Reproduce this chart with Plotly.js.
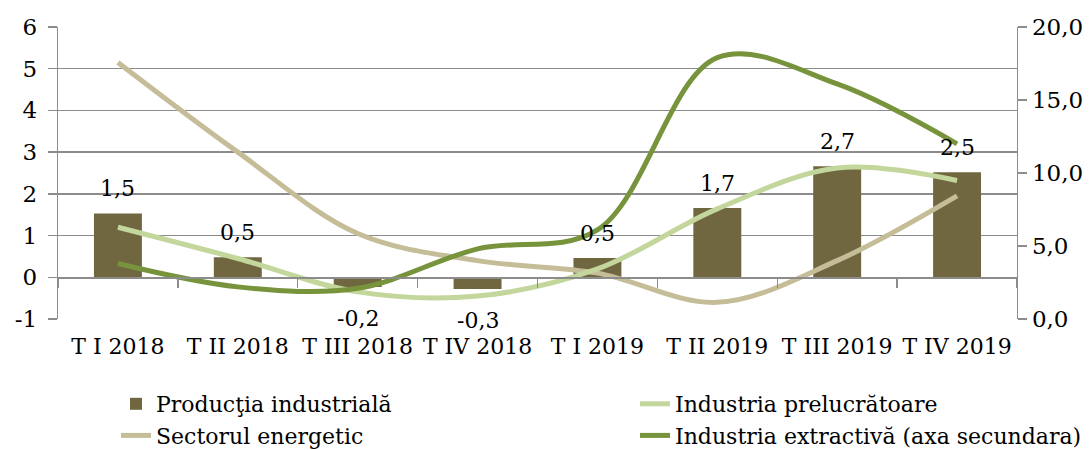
<!DOCTYPE html>
<html>
<head>
<meta charset="utf-8">
<script src="https://cdn.plot.ly/plotly-3.0.1.min.js"></script>
<style>html,body{margin:0;padding:0;background:#fff;}#chart{width:1092px;height:450px;}</style>
</head>
<body>
<div id="chart"></div>
<script>
const categories = ['T I 2018', 'T II 2018', 'T III 2018', 'T IV 2018', 'T I 2019', 'T II 2019', 'T III 2019', 'T IV 2019'];
const productie = [1.53, 0.48, -0.23, -0.28, 0.46, 1.66, 2.66, 2.52];
const energetic = [5.15, 3.0, 1.05, 0.4, 0.1, -0.6, 0.4, 1.95];
const prelucratoare = [1.2, 0.45, -0.35, -0.45, 0.2, 1.64, 2.62, 2.32];
const extractiva = [3.8, 2.2, 2.1, 4.8, 6.1, 17.9, 16.1, 12.0];
const leftTicks = [-1, 0, 1, 2, 3, 4, 5, 6];
const leftTickText = ['-1', '0', '1', '2', '3', '4', '5', '6'];
const rightTicks = [0, 5, 10, 15, 20];
const rightTickText = ['0,0', '5,0', '10,0', '15,0', '20,0'];
const names = ['Producţia industrială', 'Sectorul energetic', 'Industria prelucrătoare', 'Industria extractivă (axa secundara)'];

const FONT = 'DejaVu Serif';
const grid = '#8c8c8c';
const fmt = v => v.toFixed(1).replace('.', ',');

const traces = [
  {type: 'bar', x: categories, y: productie, name: names[0], marker: {color: '#706741'}, legend: 'legend', hoverinfo: 'skip'},
  {type: 'scatter', mode: 'lines', x: categories, y: energetic, name: names[1], line: {color: '#c4bd97', width: 5, shape: 'spline', smoothing: 1}, legend: 'legend', hoverinfo: 'skip'},
  {type: 'scatter', mode: 'lines', x: categories, y: prelucratoare, name: names[2], line: {color: '#c3d69b', width: 5, shape: 'spline', smoothing: 1}, legend: 'legend2', hoverinfo: 'skip'},
  {type: 'scatter', mode: 'lines', x: categories, y: extractiva, name: names[3], yaxis: 'y2', line: {color: '#77933c', width: 5, shape: 'spline', smoothing: 1}, legend: 'legend2', hoverinfo: 'skip'},
  {type: 'scatter', mode: 'lines', x: [], y: [], xaxis: 'x2', yaxis: 'y', showlegend: false, hoverinfo: 'skip'}
];

const annotations = productie.map((v, i) => ({
  x: categories[i], y: v, xref: 'x', yref: 'y', text: fmt(v), showarrow: false,
  yshift: v >= 0 ? 25 : -32, yanchor: 'middle', font: {family: FONT, size: 22, color: '#000'}
}));

const boundaries = [-0.5].concat(categories.map((c, i) => i + 0.5));

const legendCommon = {xanchor: 'left', yanchor: 'top', xref: 'container', yref: 'container', orientation: 'v', traceorder: 'normal', bgcolor: 'rgba(0,0,0,0)', font: {family: FONT, size: 22, color: '#000'}, tracegroupgap: 0};

const layout = {
  width: 1092, height: 450,
  margin: {l: 58, r: 75, t: 27, b: 131, autoexpand: false},
  paper_bgcolor: '#fff', plot_bgcolor: '#fff',
  font: {family: FONT, size: 23, color: '#000'},
  bargap: 0.6,
  showlegend: true,
  xaxis: {type: 'category', range: [-0.5, 7.5], showgrid: false, showline: false, zeroline: false, ticks: '', tickangle: 0, ticklabelstandoff: 12, tickfont: {family: FONT, size: 22, color: '#000'}},
  xaxis2: {overlaying: 'x', anchor: 'free', position: 1 / 7, range: [-0.5, 7.5], tickvals: boundaries, showticklabels: false, ticks: 'outside', ticklen: 9, tickcolor: grid, tickwidth: 1.3, showline: true, linecolor: grid, linewidth: 1.3, showgrid: false, zeroline: false},
  yaxis: {range: [-1, 6], tickvals: leftTicks, ticktext: leftTickText, showgrid: true, gridcolor: grid, gridwidth: 1.3, zeroline: false, showline: true, linecolor: grid, linewidth: 1.3, ticks: 'outside', ticklen: 9, tickcolor: grid, tickwidth: 1.3, ticklabelstandoff: 6, tickfont: {family: FONT, size: 23, color: '#000'}},
  yaxis2: {overlaying: 'y', side: 'right', range: [0, 20], tickvals: rightTicks, ticktext: rightTickText, showgrid: false, zeroline: false, showline: true, linecolor: grid, linewidth: 1.3, ticks: 'outside', ticklen: 9, tickcolor: grid, tickwidth: 1.3, tickfont: {family: FONT, size: 23, color: '#000'}},
  legend: Object.assign({}, legendCommon, {x: 116 / 1092, y: 1 - 383 / 450}),
  legend2: Object.assign({}, legendCommon, {x: 635 / 1092, y: 1 - 383 / 450}),
  annotations: annotations
};

Plotly.newPlot('chart', traces, layout, {displayModeBar: false, staticPlot: true});
</script>
</body>
</html>
